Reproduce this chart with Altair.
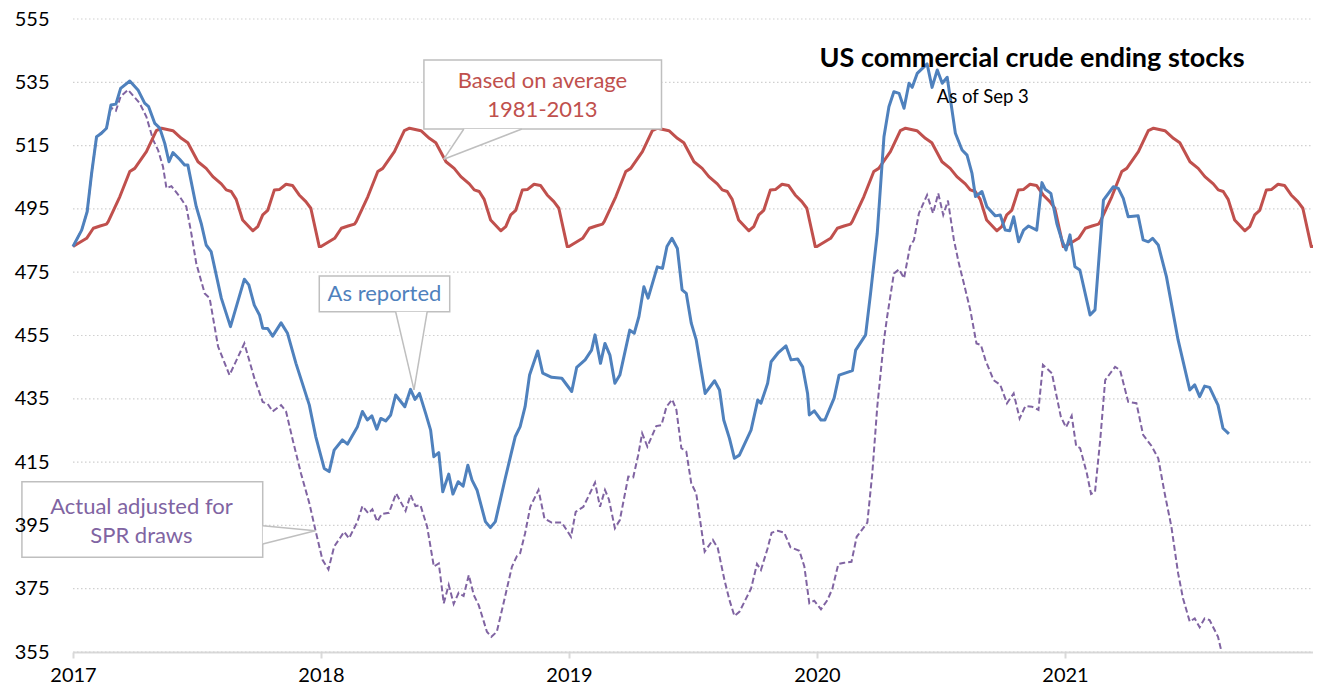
import altair as alt
import pandas as pd

FONT = "Lato"

# ---- seasonal average profile (1981-2013), fraction of year -> million bbl
SEASON_FRAC = [0.000, 0.055, 0.082, 0.109, 0.135, 0.142, 0.189, 0.229, 0.249, 0.296, 0.336, 0.357,
               0.403, 0.437, 0.463, 0.504, 0.537, 0.564, 0.598, 0.618, 0.638, 0.658, 0.684,
               0.725, 0.745, 0.765, 0.785, 0.812, 0.832, 0.859, 0.885, 0.912, 0.939, 0.959, 0.993]
SEASON_VAL = [483.1, 485.7, 488.9, 489.6, 490.2, 491.0, 498.9, 506.8, 507.8, 513.1, 519.7, 520.5,
              519.7, 517.3, 515.9, 509.9, 507.8, 505.2, 502.9, 501.0, 500.5, 498.0, 491.5,
              488.1, 489.4, 493.1, 494.5, 501.0, 501.1, 502.8, 502.4, 499.4, 497.3, 495.2, 483.1]
SEASON_YEARS = [2017, 2018, 2019, 2020, 2021]

# ---- as reported (decimal year, million bbl)
BLUE_T = [2017.000, 2017.035, 2017.057, 2017.075, 2017.095, 2017.115, 2017.135, 2017.153, 2017.173,
          2017.192, 2017.229, 2017.262, 2017.289, 2017.305, 2017.330, 2017.350, 2017.370, 2017.387,
          2017.403, 2017.430, 2017.450, 2017.463, 2017.497, 2017.517, 2017.537, 2017.557, 2017.598,
          2017.635, 2017.691, 2017.709, 2017.731, 2017.752, 2017.765, 2017.785, 2017.805, 2017.839,
          2017.865, 2017.899, 2017.953, 2017.979, 2018.013, 2018.033, 2018.053, 2018.086, 2018.107,
          2018.147, 2018.167, 2018.187, 2018.205, 2018.225, 2018.241, 2018.261, 2018.281, 2018.301,
          2018.338, 2018.361, 2018.379, 2018.397, 2018.422, 2018.442, 2018.455, 2018.475, 2018.491,
          2018.515, 2018.532, 2018.553, 2018.573, 2018.592, 2018.609, 2018.629, 2018.663, 2018.683,
          2018.703, 2018.743, 2018.783, 2018.803, 2018.823, 2018.841, 2018.874, 2018.894, 2018.930,
          2018.971, 2019.011, 2019.031, 2019.065, 2019.091, 2019.105, 2019.127, 2019.145, 2019.165,
          2019.185, 2019.205, 2019.245, 2019.263, 2019.282, 2019.302, 2019.319, 2019.356, 2019.377,
          2019.395, 2019.415, 2019.437, 2019.456, 2019.473, 2019.493, 2019.513, 2019.533, 2019.549,
          2019.587, 2019.607, 2019.624, 2019.647, 2019.667, 2019.687, 2019.734, 2019.761, 2019.774,
          2019.801, 2019.815, 2019.842, 2019.875, 2019.895, 2019.922, 2019.942, 2019.962, 2019.969,
          2019.989, 2020.016, 2020.032, 2020.069, 2020.089, 2020.143, 2020.156, 2020.196, 2020.216,
          2020.243, 2020.270, 2020.290, 2020.310, 2020.331, 2020.351, 2020.371, 2020.384, 2020.404,
          2020.444, 2020.464, 2020.485, 2020.505, 2020.525, 2020.558, 2020.585, 2020.605, 2020.625,
          2020.639, 2020.665, 2020.685, 2020.719, 2020.739, 2020.759, 2020.777, 2020.793, 2020.813,
          2020.833, 2020.853, 2020.886, 2020.907, 2020.920, 2020.943, 2020.967, 2020.987, 2021.004,
          2021.020, 2021.040, 2021.060, 2021.101, 2021.121, 2021.155, 2021.195, 2021.215, 2021.235,
          2021.255, 2021.295, 2021.315, 2021.336, 2021.353, 2021.376, 2021.409, 2021.456, 2021.503,
          2021.523, 2021.543, 2021.563, 2021.583, 2021.617, 2021.637, 2021.661]
BLUE_V = [483.1, 488.3, 494.1, 506.2, 517.8, 518.9, 520.5, 527.8, 528.1,
          533.1, 535.4, 532.6, 528.4, 527.3, 522.0, 520.5, 515.7, 509.9,
          512.8, 510.7, 508.9, 508.9, 495.7, 490.4, 483.6, 481.5, 466.8,
          457.8, 472.8, 471.0, 464.6, 461.5, 457.3, 457.2, 454.8, 459.0,
          455.7, 446.2, 433.0, 423.0, 413.0, 412.0, 418.8, 422.0, 420.7,
          426.2, 431.0, 428.3, 429.6, 425.4, 428.8, 428.0, 429.9, 436.2,
          432.5, 438.0, 434.8, 436.7, 430.4, 425.1, 416.7, 418.0, 405.6,
          411.2, 404.9, 408.8, 407.4, 414.0, 409.3, 406.2, 396.2, 394.3,
          396.2, 409.9, 423.0, 426.2, 432.5, 442.5, 450.1, 443.1, 441.8,
          441.5, 437.3, 444.9, 447.3, 450.4, 455.2, 446.2, 452.5, 448.8,
          439.9, 442.5, 456.7, 455.7, 461.0, 470.4, 466.8, 476.7, 476.2,
          483.1, 485.7, 482.5, 469.4, 468.3, 458.9, 453.6, 444.1, 436.7,
          440.7, 437.8, 428.3, 422.5, 416.2, 417.2, 425.1, 434.6, 433.6,
          439.9, 446.7, 449.4, 451.7, 447.3, 447.6, 445.1, 436.7, 429.9,
          431.2, 428.3, 428.3, 435.2, 442.5, 443.9, 450.4, 455.2, 468.3,
          487.3, 517.8, 527.3, 532.0, 531.5, 526.8, 534.7, 533.4, 537.8,
          540.8, 533.4, 538.9, 534.7, 536.6, 518.9, 513.6, 512.0, 506.2,
          498.9, 500.5, 495.7, 492.8, 493.1, 488.3, 488.1, 492.5, 484.6,
          488.3, 489.6, 488.3, 503.3, 501.2, 499.9, 490.4, 485.2, 482.0,
          486.8, 476.7, 475.7, 461.5, 463.1, 497.8, 502.0, 501.5, 498.3,
          492.5, 492.8, 485.2, 484.6, 485.7, 483.6, 473.6, 453.6, 437.8,
          439.4, 435.7, 439.0, 438.6, 433.0, 425.7, 423.9]

# ---- actual adjusted for SPR draws
ADJ_T = [2017.000, 2017.035, 2017.057, 2017.075, 2017.095, 2017.135, 2017.153, 2017.173, 2017.192,
         2017.222, 2017.269, 2017.296, 2017.323, 2017.343, 2017.363, 2017.377, 2017.397, 2017.430,
         2017.457, 2017.477, 2017.497, 2017.531, 2017.551, 2017.585, 2017.631, 2017.691, 2017.731,
         2017.765, 2017.785, 2017.805, 2017.839, 2017.859, 2017.886, 2017.919, 2017.953, 2017.979,
         2018.006, 2018.030, 2018.053, 2018.080, 2018.093, 2018.113, 2018.147, 2018.167, 2018.191,
         2018.207, 2018.227, 2018.245, 2018.274, 2018.303, 2018.341, 2018.361, 2018.381, 2018.401,
         2018.428, 2018.455, 2018.475, 2018.495, 2018.515, 2018.535, 2018.555, 2018.575, 2018.596,
         2018.616, 2018.636, 2018.669, 2018.687, 2018.709, 2018.736, 2018.770, 2018.790, 2018.803,
         2018.823, 2018.844, 2018.877, 2018.901, 2018.930, 2018.971, 2019.008, 2019.027, 2019.058,
         2019.078, 2019.105, 2019.125, 2019.145, 2019.161, 2019.185, 2019.205, 2019.239, 2019.259,
         2019.279, 2019.295, 2019.316, 2019.352, 2019.373, 2019.393, 2019.416, 2019.433, 2019.453,
         2019.473, 2019.493, 2019.513, 2019.547, 2019.580, 2019.600, 2019.627, 2019.647, 2019.667,
         2019.687, 2019.734, 2019.758, 2019.774, 2019.801, 2019.817, 2019.842, 2019.868, 2019.893,
         2019.929, 2019.949, 2019.969, 2019.989, 2020.016, 2020.042, 2020.062, 2020.086, 2020.110,
         2020.139, 2020.160, 2020.203, 2020.223, 2020.243, 2020.270, 2020.283, 2020.310, 2020.331,
         2020.351, 2020.375, 2020.391, 2020.411, 2020.444, 2020.468, 2020.489, 2020.509, 2020.528,
         2020.552, 2020.572, 2020.592, 2020.618, 2020.643, 2020.661, 2020.679, 2020.712, 2020.739,
         2020.766, 2020.793, 2020.817, 2020.840, 2020.867, 2020.893, 2020.911, 2020.947, 2020.983,
         2021.004, 2021.027, 2021.045, 2021.061, 2021.088, 2021.105, 2021.121, 2021.142, 2021.162,
         2021.202, 2021.222, 2021.255, 2021.288, 2021.315, 2021.349, 2021.376, 2021.402, 2021.429,
         2021.456, 2021.476, 2021.503, 2021.523, 2021.543, 2021.563, 2021.583, 2021.617, 2021.631]
ADJ_V = [483.1, 488.3, 494.1, 506.2, 517.8, 520.5, 527.0, 526.0, 530.5,
         532.6, 528.4, 524.1, 516.8, 513.6, 508.3, 501.5, 502.2, 498.9,
         495.7, 487.3, 477.8, 468.3, 466.8, 451.5, 442.5, 452.5, 441.6,
         434.0, 433.4, 431.0, 433.0, 431.0, 422.0, 411.5, 402.0, 393.0,
         384.1, 381.1, 388.3, 391.4, 393.0, 390.9, 396.2, 401.1, 398.8,
         400.1, 396.2, 398.6, 399.0, 405.1, 399.6, 404.6, 401.1, 401.4,
         394.6, 382.0, 383.0, 370.4, 376.2, 370.2, 373.7, 372.7, 379.3,
         373.0, 369.8, 361.4, 359.8, 361.4, 370.4, 382.0, 385.3, 386.2,
         392.5, 400.9, 406.2, 397.2, 395.9, 395.9, 391.4, 399.3, 400.9,
         404.1, 408.5, 400.9, 406.2, 403.2, 394.1, 396.7, 410.4, 410.2,
         417.2, 424.1, 419.9, 426.4, 426.7, 432.5, 434.8, 431.5, 419.4,
         418.3, 408.3, 405.1, 386.7, 390.4, 387.8, 377.7, 371.4, 366.4,
         367.7, 375.0, 382.8, 380.9, 387.8, 392.7, 393.3, 392.7, 388.1,
         387.0, 382.0, 370.4, 371.2, 368.5, 371.4, 375.0, 382.8, 383.2,
         383.5, 391.4, 395.9, 411.5, 432.5, 453.6, 461.0, 474.6, 475.9,
         473.1, 483.1, 485.2, 493.6, 499.4, 493.6, 499.9, 493.1, 497.6,
         485.2, 477.8, 471.5, 463.1, 452.5, 452.0, 447.3, 440.9, 439.4,
         433.6, 436.7, 428.8, 432.7, 432.5, 431.5, 445.7, 443.1, 429.4,
         426.0, 429.6, 420.1, 419.4, 411.5, 404.9, 405.6, 422.0, 440.9,
         445.1, 444.1, 434.0, 433.6, 423.6, 420.1, 416.2, 405.1, 394.6,
         379.9, 371.9, 364.6, 365.6, 362.8, 365.6, 365.1, 359.8, 355.1]

Y_TICKS = [355, 375, 395, 415, 435, 455, 475, 495, 515, 535, 555]
X_TICKS = [2017, 2018, 2019, 2020, 2021]

RED = "#C0504D"
BLUE = "#4F81BD"
PURPLE = "#8064A2"
BOXGRAY = "#BFBFBF"

# ---- tables
red_rows = []
for yr in SEASON_YEARS:
    for f, v in zip(SEASON_FRAC, SEASON_VAL):
        red_rows.append({"t": yr + f, "v": v})
red_rows.append({"t": 2022.0, "v": SEASON_VAL[0]})
red_df = pd.DataFrame(red_rows)
blue_df = pd.DataFrame({"t": BLUE_T, "v": BLUE_V})
adj_df = pd.DataFrame({"t": ADJ_T, "v": ADJ_V})
grid_df = pd.DataFrame({"v": Y_TICKS})

# annotation boxes (data coordinates)
boxes_df = pd.DataFrame({
    "x": [2018.415, 2017.993, 2016.794],
    "x2": [2019.373, 2018.519, 2017.765],
    "y": [542.05, 473.8, 408.8],
    "y2": [520.25, 462.5, 384.9],
})
tri_df = pd.DataFrame({
    "tri": ["a", "a", "a", "b", "b", "b", "c", "c"],
    "x": [2018.495, 2018.576, 2018.810, 2018.301, 2018.375, 2018.428, 2017.765, 2017.977],
    "y": [510.7, 513.16, 520.25, 462.5, 437.8, 462.5, 389.1, 393.3],
    "y2": [510.7, 520.25, 520.25, 462.5, 462.5, 462.5, 394.9, 393.3],
})
edge_df = pd.DataFrame({
    "x": [2018.576, 2018.810, 2018.301, 2018.428, 2017.765, 2017.765],
    "y": [520.25, 520.25, 462.5, 462.5, 394.9, 389.1],
    "x2": [2018.495, 2018.495, 2018.375, 2018.375, 2017.977, 2017.977],
    "y2": [510.7, 510.7, 437.8, 437.8, 393.3, 393.3],
})
labels_df = pd.DataFrame({
    "x": [2018.893, 2018.893, 2018.256, 2017.276, 2017.276],
    "y": [535.4, 526.25, 468.1, 400.9, 391.65],
    "text": ["Based on average", "1981-2013", "As reported", "Actual adjusted for", "SPR draws"],
    "color": [RED, RED, BLUE, PURPLE, PURPLE],
})
title_df = pd.DataFrame({"x": [2020.867], "y": [542.5], "text": ["US commercial crude ending stocks"]})
sub_df = pd.DataFrame({"x": [2020.483], "y": [530.5], "text": ["As of Sep 3"]})

xscale = alt.Scale(domain=[2017, 2022], nice=False, zero=False)
yscale = alt.Scale(domain=[355, 555], nice=False, zero=False)
xaxis = alt.Axis(values=X_TICKS, format="d", grid=False, title=None,
                 domainColor="#D9D9D9", domainWidth=2, tickColor="#D9D9D9", tickWidth=2,
                 tickSize=6, labelPadding=7, labelFont=FONT, labelFontSize=20,
                 labelColor="#000000", labelFlush=False)
yaxis = alt.Axis(values=Y_TICKS, format="d", grid=False, title=None, domain=False, ticks=False,
                 labelPadding=24, labelFont=FONT, labelFontSize=20, labelColor="#000000", zindex=1)


def X(f):
    return alt.X(f"{f}:Q", scale=xscale, axis=xaxis)


def Y(f):
    return alt.Y(f"{f}:Q", scale=yscale, axis=yaxis)


grid = alt.Chart(grid_df).mark_rule(color="#D0D0D0", strokeWidth=1.2, strokeDash=[1.5, 2.5]).encode(
    y=Y("v"), x=alt.value(0), x2=alt.value(1240))

adj_line = alt.Chart(adj_df).mark_line(color=PURPLE, strokeWidth=2, strokeDash=[6, 3]).encode(
    x=X("t"), y=Y("v"))
red_line = alt.Chart(red_df).mark_line(color=RED, strokeWidth=3, strokeJoin="round").encode(
    x=X("t"), y=Y("v"))
blue_line = alt.Chart(blue_df).mark_line(color=BLUE, strokeWidth=3, strokeJoin="round").encode(
    x=X("t"), y=Y("v"))

boxes = alt.Chart(boxes_df).mark_rect(fill="white", stroke=BOXGRAY, strokeWidth=1.5).encode(
    x=X("x"), x2="x2", y=Y("y"), y2="y2")
tris = alt.Chart(tri_df).mark_area(fill="white", opacity=1).encode(
    x=X("x"), y=Y("y"), y2="y2", detail="tri:N")
edges = alt.Chart(edge_df).mark_rule(color=BOXGRAY, strokeWidth=1.5).encode(
    x=X("x"), y=Y("y"), x2="x2", y2="y2")
labels = alt.Chart(labels_df).mark_text(font=FONT, fontSize=22, align="center", baseline="middle").encode(
    x=X("x"), y=Y("y"), text="text:N", color=alt.Color("color:N", scale=None))
title = alt.Chart(title_df).mark_text(font=FONT, fontSize=27, fontWeight="bold", align="center",
                                      baseline="middle", color="#000000").encode(
    x=X("x"), y=Y("y"), text="text:N")
sub = alt.Chart(sub_df).mark_text(font=FONT, fontSize=18.5, align="left", baseline="middle",
                                  color="#000000").encode(
    x=X("x"), y=Y("y"), text="text:N")

chart = alt.layer(grid, adj_line, red_line, blue_line, boxes, tris, edges, labels, title, sub).properties(
    width=1240, height=633,
    autosize=alt.AutoSizeParams(type="none"),
    padding={"left": 65, "top": 11, "right": 0, "bottom": 32},
).configure_view(stroke=None)

chart.save("out.html", embed_options={"renderer": "svg", "actions": False})
